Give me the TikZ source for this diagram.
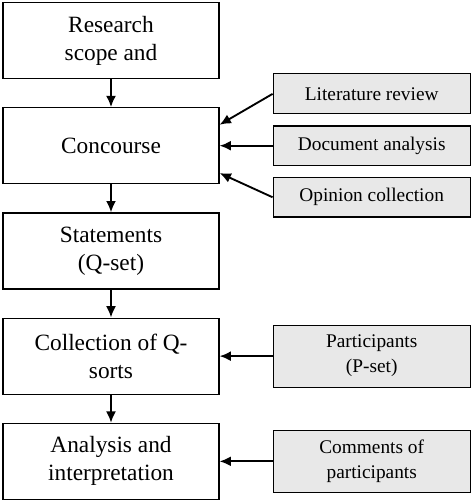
\documentclass[tikz,border=0pt]{standalone}
\usepackage{fontspec}
\setmainfont{Liberation Serif}
\usetikzlibrary{positioning,arrows.meta}

\tikzset{
  stage/.style={draw, line width=0.9pt, minimum width=162pt, minimum height=57pt,
    align=center, inner sep=2pt, font=\fontsize{17.5}{21}\selectfont},
  source/.style={draw, fill=black!9, line width=0.9pt, minimum width=147.75pt,
    align=center, inner sep=2pt, font=\fontsize{14.5}{18.75}\selectfont},
  feed/.style={-{Latex[length=8.5pt,width=7.5pt]}, line width=1.4pt},
}

\begin{document}
\begin{tikzpicture}
      \useasboundingbox (0,0) rectangle (354.75pt,-375pt);

      % main stages
      \node[stage] (scope) at (83.25pt,-30.4pt) {Research\\scope and};
      \node[stage, below=21pt of scope] (conc) {Concourse};
      \node[stage, below=21pt of conc] (stmt) {Statements\\(Q-set)};
      \node[stage, below=21pt of stmt] (coll) {Collection of Q-\\sorts};
      \node[stage, below=21pt of coll] (anal) {Analysis and\\interpretation};

      % inputs
      \node[source, minimum height=29.5pt, right=39.75pt of conc] (doc) {Document analysis};
      \node[source, minimum height=30pt, above=8.25pt of doc] (lit) {Literature review};
      \node[source, minimum height=29.5pt, below=8.25pt of doc] (opin) {Opinion collection};
      \node[source, minimum height=46.5pt, right=39.75pt of coll] (part) {Participants\\(P-set)};
      \node[source, minimum height=46.5pt, right=39.75pt of anal] (comm) {Comments of\\participants};

      \draw[feed] (scope) -- (conc) ;
      \draw[feed] (conc) -- (stmt) ;
      \draw[feed] (stmt) -- (coll) ;
      \draw[feed] (coll) -- (anal) ;

      \draw[feed] (lit.west) -- ([yshift=15.75pt]conc.east) ;
      \draw[feed] (doc.west) -- (conc.east) ;
      \draw[feed] (opin.west) -- ([yshift=-20.5pt]conc.east) ;
      \draw[feed] (part.west) -- (coll.east) ;
      \draw[feed] (comm.west) -- (anal.east) ;

\end{tikzpicture}
\end{document}
